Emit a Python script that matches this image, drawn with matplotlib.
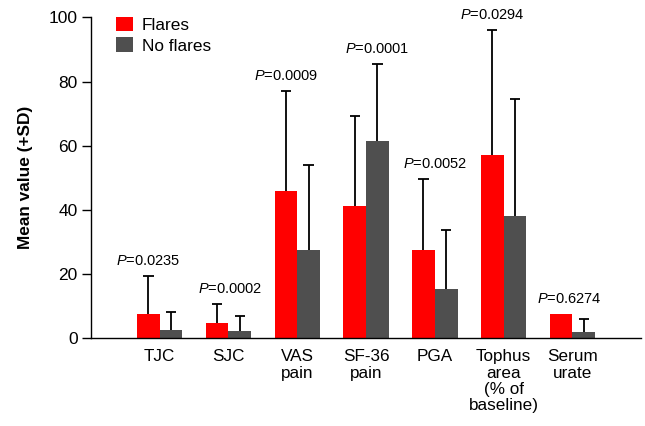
import matplotlib
matplotlib.use("Agg")
import matplotlib.pyplot as plt
import numpy as np

plt.rcParams['font.family'] = ['Liberation Sans', 'DejaVu Sans']
plt.rcParams['mathtext.fontset'] = 'custom'
plt.rcParams['mathtext.rm'] = 'Liberation Sans'
plt.rcParams['mathtext.it'] = 'Liberation Sans:italic'

categories = ["TJC", "SJC", "VAS\npain", "SF-36\npain", "PGA", "Tophus\narea\n(% of\nbaseline)", "Serum\nurate"]
flares_mean = [7.6, 4.8, 45.9, 41.2, 27.5, 57.1, 7.6]
flares_sd = [11.9, 6.0, 31.2, 28.1, 22.0, 39.0, 0.0]
noflares_mean = [2.6, 2.3, 27.5, 61.5, 15.4, 38.1, 2.0]
noflares_sd = [5.7, 4.7, 26.6, 23.9, 18.4, 36.5, 4.0]
p_values = ["0.0235", "0.0002", "0.0009", "0.0001", "0.0052", "0.0294", "0.6274"]
p_label_offset = [-0.165, 0.03, -0.165, 0.165, 0.0, -0.165, -0.04]

red = "#FF0000"
gray = "#4F4F4F"

fig = plt.figure(figsize=(6.45, 4.26), dpi=100)
ax = fig.add_axes([0.141, 0.206, 0.853, 0.753])

x = np.arange(1, len(categories) + 1)
w = 0.33
cap = 0.075

ax.bar(x - w/2, flares_mean, w, color=red, label="Flares", zorder=2)
ax.bar(x + w/2, noflares_mean, w, color=gray, label="No flares", zorder=2)

for xs, means, sds in [(x - w/2, flares_mean, flares_sd), (x + w/2, noflares_mean, noflares_sd)]:
    for xi, m, s in zip(xs, means, sds):
        if s > 0:
            ax.vlines(xi, m, m + s, color='black', linewidth=1.3, zorder=1)
            ax.hlines(m + s, xi - cap, xi + cap, color='black', linewidth=1.3, zorder=1)

for i, p in enumerate(p_values):
    top = max(flares_mean[i] + flares_sd[i], noflares_mean[i] + noflares_sd[i])
    ax.text(x[i] + p_label_offset[i], top + 2.5, r"$\it{P}$=" + p,
            ha='center', va='bottom', fontsize=10.5)

ax.set_xlim(0, 8)
ax.set_ylim(0, 100)
ax.set_yticks([0, 20, 40, 60, 80, 100])
ax.set_xticks(x)
ax.set_xticklabels(categories, fontsize=12.3, linespacing=1.1)
ax.tick_params(axis='x', length=0, pad=8)
ax.tick_params(axis='y', length=6.5, width=1, labelsize=12.5, pad=3)
ax.set_ylabel("Mean value (+SD)", fontsize=12.4, fontweight='bold', labelpad=11)

for s in ['top', 'right']:
    ax.spines[s].set_visible(False)
ax.spines['left'].set_linewidth(1)
ax.spines['bottom'].set_linewidth(1)

ax.legend(loc='upper left', bbox_to_anchor=(0.027, 1.035), frameon=False,
          fontsize=12.4, handlelength=1.0, handleheight=0.95, handletextpad=0.5,
          labelspacing=0.25, borderaxespad=0.2)

fig.savefig("out.png", dpi=100)
